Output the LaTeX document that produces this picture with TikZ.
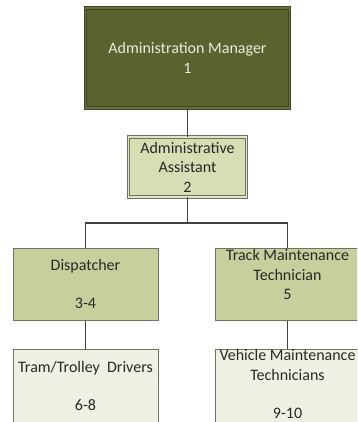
\documentclass[tikz,border=0pt]{standalone}
\usepackage{fontspec}
\setmainfont{Carlito}
\usepackage{tikz}
\usepackage{xcolor}
\usetikzlibrary{positioning}

\definecolor{mgrfill}{RGB}{88,99,48}
\definecolor{mgrgap}{RGB}{104,116,62}
\definecolor{mgrline}{RGB}{60,68,36}
\definecolor{mgrink}{RGB}{232,236,218}
\definecolor{asstfill}{RGB}{214,222,180}
\definecolor{midfill}{RGB}{197,208,156}
\definecolor{lowfill}{RGB}{237,241,227}
\definecolor{boxline}{RGB}{110,114,100}
\definecolor{wire}{RGB}{64,64,64}
\definecolor{ink}{RGB}{40,40,40}

\begin{document}
\begin{tikzpicture}[x=1pt,y=1pt]
\tikzstyle{every node}+=[inner sep=0pt]
\tikzstyle{every label}+=[align=center, text=ink, font=\fontsize{16}{19.5}\selectfont]
\tikzstyle{post}=[draw=boxline, line width=1pt, minimum width=145pt, minimum height=72pt]
\tikzstyle{link}=[draw=wire, line width=1.7pt]
\useasboundingbox (0,0) rectangle (357,-422);
\clip (0,0) rectangle (357,-422);
\node [draw=mgrline, line width=0.9pt, double=mgrgap, double distance=1.6pt, fill=mgrfill,
  minimum width=204pt, minimum height=100pt,
  label={[text=mgrink]center:{Administration Manager\\1}}] (mgr) at (187.5,-58) {};
\node [draw=boxline, line width=0.9pt, double=asstfill!80!white, double distance=1.6pt, fill=asstfill,
  minimum width=118pt, minimum height=60pt,
  label=center:{Administrative\\Assistant\\2}] (asst) at (187.5,-167) {};
\node [post, fill=midfill, label=center:{Dispatcher\\[19pt]3-4}] (disp) at (85.5,-284) {};
\node [post, fill=midfill, label={[yshift=9.5pt]center:{Track Maintenance\\Technician\\5}}] (track) at (287.5,-284) {};
\node [post, fill=lowfill, minimum height=74pt, label=center:{Tram/Trolley\ \ Drivers\\[19pt]6-8}] (tram) at (85.5,-386) {};
\node [post, fill=lowfill, minimum height=74pt, label={[yshift=2pt]center:{Vehicle Maintenance\\Technicians\\[18.5pt]9-10}}] (vehicle) at (287.5,-386) {};
\coordinate (fork) at (187.5,-223);
\draw [link] (mgr) -- (asst);
\draw [link] (asst) -- (fork);
\draw [link] (fork) -| (disp);
\draw [link] (fork) -| (track);
\draw [link] (disp) -- (tram);
\draw [link] (track) -- (vehicle);
\end{tikzpicture}
\end{document}
